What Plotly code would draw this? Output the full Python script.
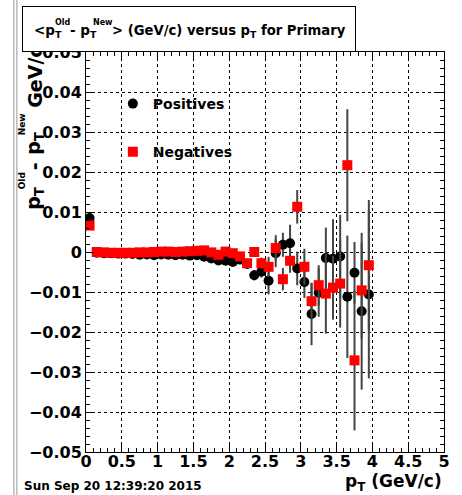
import plotly.graph_objects as go

# Bin centres in pT (GeV/c)
pt = [0.05, 0.15, 0.25, 0.35, 0.45, 0.55, 0.65, 0.75, 0.85, 0.95,
      1.05, 1.15, 1.25, 1.35, 1.45, 1.55, 1.65, 1.75, 1.85, 1.95,
      2.05, 2.15, 2.25, 2.35, 2.45, 2.55, 2.65, 2.75, 2.85, 2.95,
      3.05, 3.15, 3.25, 3.35, 3.45, 3.55, 3.65, 3.75, 3.85, 3.95]

# <pT(old) - pT(new)> for positive tracks
pos_mean = [0.0085, -0.0002, -0.0003, -0.0003, -0.0004, -0.0004, -0.0005, -0.0007, -0.0006, -0.0008,
            -0.0006, -0.0007, -0.0008, -0.0007, -0.0009, -0.0008, -0.0012, -0.0016, -0.0021, -0.0022,
            -0.0025, -0.0019, -0.0030, -0.0058, -0.0049, -0.0072, -0.0003, 0.0018, 0.0022, -0.0041,
            -0.0075, -0.0155, -0.0102, -0.0015, -0.0017, -0.0011, -0.0112, -0.0052, -0.0148, -0.0106]
pos_err = [0.0013, 0.0002, 0.0002, 0.0002, 0.0002, 0.0002, 0.0002, 0.0002, 0.0002, 0.0002,
           0.0003, 0.0003, 0.0003, 0.0003, 0.0003, 0.0003, 0.0004, 0.0005, 0.0005, 0.0006,
           0.0007, 0.0008, 0.0010, 0.0013, 0.0015, 0.0034, 0.0035, 0.0030, 0.0046, 0.0042,
           0.0040, 0.0078, 0.0060, 0.0076, 0.0099, 0.0104, 0.0153, 0.0077, 0.0196, 0.0210]

# <pT(old) - pT(new)> for negative tracks
neg_mean = [0.0066, 0.0000, -0.0001, -0.0002, -0.0002, -0.0002, -0.0002, -0.0001, -0.0001, 0.0000,
            0.0001, 0.0001, 0.0000, 0.0001, 0.0002, 0.0003, 0.0004, -0.0001, -0.0007, 0.0001,
            -0.0003, -0.0011, -0.0028, 0.0000, -0.0028, -0.0037, 0.0010, -0.0068, -0.0022, 0.0113,
            -0.0037, -0.0123, -0.0083, -0.0104, -0.0089, -0.0079, 0.0217, -0.0271, -0.0096, -0.0033]
neg_err = [0.0010, 0.0002, 0.0002, 0.0002, 0.0002, 0.0002, 0.0002, 0.0002, 0.0002, 0.0002,
           0.0003, 0.0003, 0.0003, 0.0003, 0.0003, 0.0003, 0.0004, 0.0005, 0.0005, 0.0006,
           0.0007, 0.0008, 0.0010, 0.0012, 0.0014, 0.0025, 0.0032, 0.0028, 0.0030, 0.0042,
           0.0045, 0.0045, 0.0050, 0.0100, 0.0080, 0.0110, 0.0140, 0.0175, 0.0120, 0.0163]

FONT = "DejaVu Sans"
W, H = 462, 495
L, R, T, B = 86, 16, 52, 43


def fx(p):
    """pixel column -> paper x"""
    return (p - L) / (W - L - R)


def fy(p):
    """pixel row -> paper y"""
    return (H - B - p) / (H - T - B)


fig = go.Figure()

fig.add_trace(go.Scatter(
    x=pt, y=pos_mean, mode="markers", name="Positives", legendgroup="pos",
    marker=dict(symbol="circle", size=10, color="black"),
    error_y=dict(type="data", array=pos_err, color="#444444", thickness=2, width=0),
))
fig.add_trace(go.Scatter(
    x=pt, y=neg_mean, mode="markers", name="Negatives", legendgroup="neg",
    marker=dict(symbol="square", size=10, color="#ff0000"),
    error_y=dict(type="data", array=neg_err, color="#444444", thickness=2, width=0),
))

axis_common = dict(
    showline=True, linecolor="black", linewidth=1, mirror="ticks",
    ticks="inside", tickcolor="black", ticklen=8, tickwidth=1,
    showgrid=True, gridcolor="black", griddash="dot", gridwidth=1,
    zeroline=False,
    tickfont=dict(family=FONT, size=16, color="black", weight="bold"),
)

fig.update_xaxes(range=[0, 5], dtick=0.5, tick0=0, ticklabelstandoff=-5,
                 minor=dict(dtick=0.1, ticks="inside", ticklen=4, tickcolor="black", showgrid=False),
                 **axis_common)
fig.update_yaxes(range=[-0.05, 0.05], dtick=0.01, tick0=0,
                 minor=dict(dtick=0.002, ticks="inside", ticklen=4, tickcolor="black", showgrid=False),
                 **axis_common)

bold = lambda s: dict(family=FONT, size=s, color="black", weight="bold")
ann = []

# y-axis title, built from pieces so the sup/sub pairs stack
ann.append(dict(text="p<sub>T</sub>", x=fx(34), y=fy(212), xanchor="center", yanchor="bottom",
                textangle=-90, font=bold(19)))
ann.append(dict(text="Old", x=fx(22), y=fy(181), xanchor="center", yanchor="middle",
                textangle=-90, font=bold(9)))
ann.append(dict(text="-", x=fx(34), y=fy(166), xanchor="center", yanchor="middle",
                textangle=-90, font=bold(19)))
ann.append(dict(text="p<sub>T</sub>", x=fx(34), y=fy(157), xanchor="center", yanchor="bottom",
                textangle=-90, font=bold(19)))
ann.append(dict(text="New", x=fx(22), y=fy(124), xanchor="center", yanchor="middle",
                textangle=-90, font=bold(9)))
ann.append(dict(text="GeV/c", x=fx(34), y=fy(110), xanchor="center", yanchor="bottom",
                textangle=-90, font=bold(19)))

# title box
ann.append(dict(text="", x=fx(22), y=fy(6), xanchor="left", yanchor="top",
                width=332, height=44, borderpad=0, borderwidth=1, bordercolor="black",
                bgcolor="white", showarrow=False))
ann.append(dict(text="&lt;p<sub>T</sub>", x=fx(32), y=fy(31), xanchor="left", yanchor="middle", font=bold(13.5)))
ann.append(dict(text="Old", x=fx(53), y=fy(23), xanchor="left", yanchor="middle", font=bold(8)))
ann.append(dict(text="- p<sub>T</sub>", x=fx(68), y=fy(31), xanchor="left", yanchor="middle", font=bold(13.5)))
ann.append(dict(text="New", x=fx(91), y=fy(23), xanchor="left", yanchor="middle", font=bold(8)))
ann.append(dict(text="&gt; (GeV/c) versus p<sub>T</sub> for Primary", x=fx(110), y=fy(31),
                xanchor="left", yanchor="middle", font=bold(13.2)))

# x-axis title and date stamp
ann.append(dict(text="p<sub>T</sub> (GeV/c)", x=1, y=fy(483), xanchor="right", yanchor="middle", font=bold(17)))
ann.append(dict(text="Sun Sep 20 12:39:20 2015", x=fx(22), y=fy(486), xanchor="left", yanchor="middle",
                font=bold(12)))

for a in ann:
    a.setdefault("showarrow", False)
    a["xref"] = "paper"
    a["yref"] = "paper"

shapes = [
    dict(type="line", xref="paper", yref="paper", x0=fx(13.5), x1=fx(13.5), y0=fy(0), y1=fy(H),
         line=dict(color="#999999", width=1)),
    dict(type="line", xref="paper", yref="paper", x0=fx(16.5), x1=fx(16.5), y0=fy(0), y1=fy(H),
         line=dict(color="#999999", width=1)),
]

fig.update_layout(
    width=W, height=H,
    margin=dict(l=L, r=R, t=T, b=B),
    paper_bgcolor="white", plot_bgcolor="white",
    annotations=ann, shapes=shapes,
    showlegend=True,
    legend=dict(x=fx(113), y=fy(88), xanchor="left", yanchor="top",
                bgcolor="rgba(0,0,0,0)", borderwidth=0, tracegroupgap=27,
                font=bold(14), itemsizing="trace"),
)

fig.write_html("out.html")
